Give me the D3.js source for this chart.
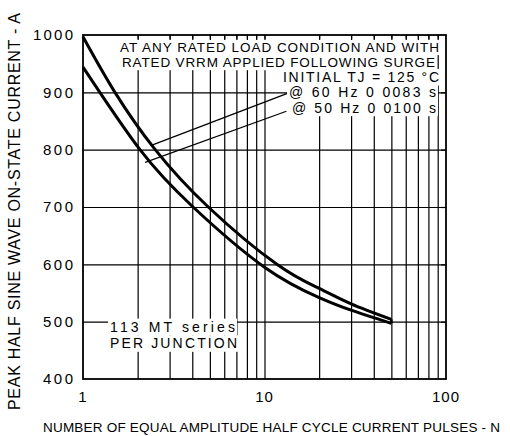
<!DOCTYPE html>
<html><head><meta charset="utf-8">
<script src="https://cdn.jsdelivr.net/npm/d3@7"></script>
<style>
body{margin:0;background:#fff}
svg{display:block}
text{font-family:"Liberation Sans",Arial,sans-serif;fill:#000}
</style>
</head><body>
<svg id="c" width="510" height="436"></svg>
<script>
// ---- data ----
const pulses60Hz  = [1, 1.5, 2.5, 4.9, 11.7, 20, 30, 50];
const current60Hz = [997, 900, 800, 700, 600, 558, 531, 504];
const pulses50Hz  = [1, 2.06, 4.04, 10, 20, 30, 50];
const current50Hz = [944, 800, 700, 595, 542, 520, 497];
const xTickLabels = [1, 10, 100];
const yTickLabels = [400, 500, 600, 700, 800, 900, 1000];
const xGridValues = [2, 3, 4, 5, 6, 7, 8, 9, 10, 20, 30, 40, 50, 60, 70, 80, 90];
const yGridValues = [500, 600, 700, 800, 900];
const leader60 = [[2.4, 808], [13.6, 899]];
const leader50 = [[2.2, 778], [13.2, 867]];
const noteLines = ["AT ANY RATED LOAD CONDITION AND WITH", "RATED VRRM APPLIED FOLLOWING SURGE",
                   "INITIAL TJ = 125 \u00B0C", "@ 60 Hz 0 0083 s", "@ 50 Hz 0 0100 s"];
const seriesLines = ["113 MT series", "PER JUNCTION"];
const xTitle = "NUMBER OF EQUAL AMPLITUDE HALF CYCLE CURRENT PULSES - N";
const yTitle = "PEAK HALF SINE WAVE ON-STATE CURRENT - A";

// ---- layout ----
const L = 83, R = 446, T = 35, B = 379;
const svg = d3.select("#c");
const x = d3.scaleLog().domain([1, 100]).range([L, R]);
const y = d3.scaleLinear().domain([400, 1000]).range([B, T]);

svg.append("rect").attr("width", 510).attr("height", 436).attr("fill", "#fff");

// grid lines via axes
const gx = svg.append("g").attr("transform", `translate(0,${B})`)
  .call(d3.axisBottom(x).tickValues(xGridValues).tickSize(-(B - T)).tickFormat(""));
const gy = svg.append("g").attr("transform", `translate(${L},0)`)
  .call(d3.axisLeft(y).tickValues(yGridValues).tickSize(-(R - L)).tickFormat(""));
[gx, gy].forEach(g => {
  g.select(".domain").remove();
  g.selectAll("line").attr("stroke", "#000").attr("stroke-width", 1.2);
});

// leader lines
const line = d3.line().x(d => x(d[0])).y(d => y(d[1]));
[leader60, leader50].forEach(l => {
  svg.append("path").attr("d", line(l)).attr("fill", "none").attr("stroke", "#000").attr("stroke-width", 1.3);
});

// curves
const curve = d3.line().x(d => x(d[0])).y(d => y(d[1])).curve(d3.curveNatural);
[[pulses60Hz, current60Hz], [pulses50Hz, current50Hz]].forEach(([ps, vals]) => {
  svg.append("path").attr("d", curve(ps.map((p, i) => [p, vals[i]])))
    .attr("fill", "none").attr("stroke", "#000").attr("stroke-width", 3).attr("stroke-linejoin", "round");
});
svg.append("path").attr("d", line([[pulses60Hz[pulses60Hz.length-1], current60Hz[current60Hz.length-1]],
                                   [pulses50Hz[pulses50Hz.length-1], current50Hz[current50Hz.length-1]]]))
  .attr("stroke", "#000").attr("stroke-width", 2.5);

// masked texts
function maskedText(str, x0, w, base, fs) {
  const cap = fs * 0.72;
  svg.append("rect").attr("x", x0 - 2).attr("y", base - cap - 3).attr("width", w + 4).attr("height", cap + 6.5).attr("fill", "#fff");
  svg.append("text").attr("x", x0).attr("y", base).attr("font-size", fs)
    .attr("textLength", w).attr("lengthAdjust", "spacing").text(str);
}
const noteLayout = [[120, 319, 51.6, 13.5], [122, 313, 66.7, 13.5], [283, 156, 82, 14], [289, 147, 97.3, 14], [292, 144, 112.7, 14]];
noteLines.forEach((s, i) => maskedText(s, ...noteLayout[i]));
const seriesLayout = [[110, 125, 331.7, 14], [110, 127, 348.3, 14]];
seriesLines.forEach((s, i) => maskedText(s, ...seriesLayout[i]));

// inner tick stubs on top and right borders
svg.append("g").attr("transform", `translate(0,${T})`)
  .call(d3.axisTop(x).tickValues(xGridValues).tickSize(-5).tickFormat(""))
  .call(g => { g.select(".domain").remove(); g.selectAll("line").attr("stroke", "#000").attr("stroke-width", 1.2); });
svg.append("g").attr("transform", `translate(${R},0)`)
  .call(d3.axisRight(y).tickValues(yGridValues).tickSize(-5).tickFormat(""))
  .call(g => { g.select(".domain").remove(); g.selectAll("line").attr("stroke", "#000").attr("stroke-width", 1.2); });

// frame
svg.append("rect").attr("x", L).attr("y", T).attr("width", R - L).attr("height", B - T)
  .attr("fill", "none").attr("stroke", "#000").attr("stroke-width", 1.8);

// tick labels
yTickLabels.forEach(v => {
  const s = String(v);
  svg.append("text").attr("x", 73).attr("y", y(v) + 5.3).attr("text-anchor", "end")
    .attr("font-size", 15).attr("textLength", 10 * s.length).attr("lengthAdjust", "spacing").text(s);
});
xTickLabels.forEach(v => {
  svg.append("text").attr("x", x(v)).attr("y", 402).attr("text-anchor", "middle")
    .attr("font-size", 15).attr("letter-spacing", 1).text(String(v));
});

// axis titles
svg.append("text").attr("x", 43).attr("y", 432).attr("font-size", 13.5)
  .attr("textLength", 457).attr("lengthAdjust", "spacing").text(xTitle);
svg.append("text").attr("transform", "translate(20,410) rotate(-90)").attr("font-size", 16)
  .attr("textLength", 397).attr("lengthAdjust", "spacing").text(yTitle);
</script>
</body></html>
